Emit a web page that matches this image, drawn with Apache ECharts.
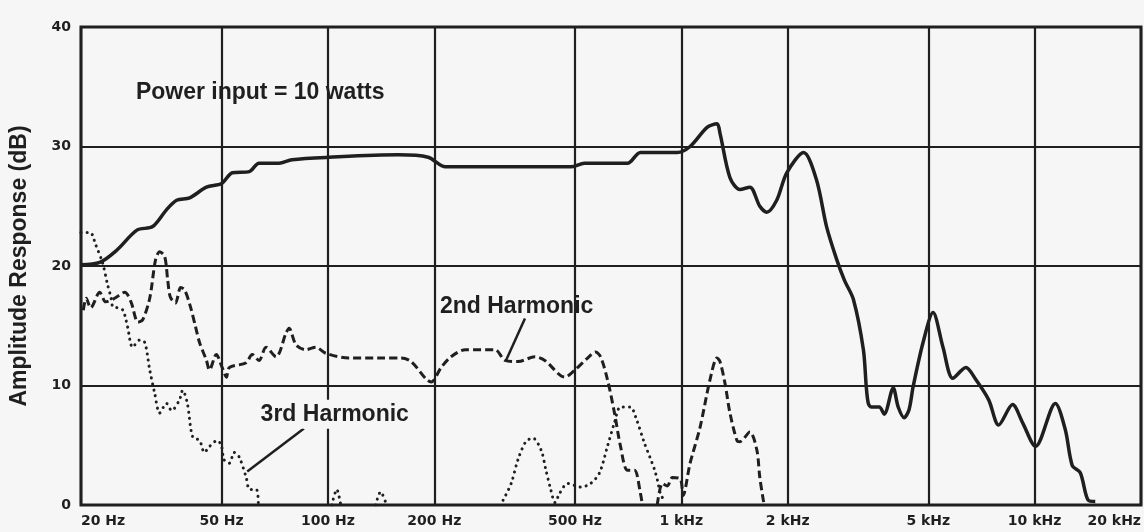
<!DOCTYPE html>
<html>
<head>
<meta charset="utf-8">
<style>
html, body { margin: 0; padding: 0; background: #f6f6f6; }
#main { width: 1144px; height: 532px; }
</style>
</head>
<body>
<div id="main"></div>
<script src="https://cdn.jsdelivr.net/npm/echarts@6/dist/echarts.min.js"></script>
<script>
// frequency ticks (Hz) and their printed labels
var freqTicks = [20, 50, 100, 200, 500, 1000, 2000, 5000, 10000, 20000];
var tickLabels = ['20 Hz', '50 Hz', '100 Hz', '200 Hz', '500 Hz', '1 kHz', '2 kHz', '5 kHz', '10 kHz', '20 kHz'];

// [Hz, dB]
var mainResponse = [
    [20, 20.1], [22.6, 20.3], [25.2, 21.3], [28.8, 23.0], [31.9, 23.3], [34.9, 24.7],
    [37.3, 25.5], [40.6, 25.7], [45.3, 26.6], [50, 26.9], [53.6, 27.8], [59.9, 27.9],
    [63.8, 28.6], [72.7, 28.6], [79.1, 28.9], [100.6, 29.1], [158, 29.3], [192, 29.1],
    [215, 28.3], [266, 28.3], [487, 28.3], [532, 28.6], [704, 28.6], [766, 29.5],
    [974, 29.5], [1059, 30.0], [1183, 31.6], [1262, 31.9], [1287, 31.1], [1373, 27.4],
    [1465, 26.4], [1563, 26.6], [1668, 25.0], [1745, 24.5], [1862, 25.5], [1988, 27.8],
    [2219, 29.5], [2414, 27.2], [2577, 23.3], [2749, 20.6], [2896, 18.8], [3070, 17.2],
    [3276, 13.0], [3338, 9.9], [3383, 8.5], [3448, 8.2], [3633, 8.2], [3752, 7.6],
    [3979, 9.8], [4110, 8.2], [4273, 7.3], [4413, 8.0], [4530, 9.9], [4833, 13.6],
    [5158, 16.1], [5503, 13.2], [5870, 10.6], [6387, 11.5], [6815, 10.5], [7413, 8.8],
    [7911, 6.7], [8662, 8.4], [9243, 6.9], [10060, 4.9], [11445, 8.5], [12213, 6.3],
    [12779, 3.3], [13465, 2.7], [14182, 0.4], [14844, 0.3]
];

var secondHarmonic = [
    [20.3, 16.3], [20.7, 17.3], [21.3, 16.5], [22.6, 17.8], [23.5, 17.0], [24.9, 17.3],
    [26.6, 17.8], [27.7, 17.0], [29.0, 15.3], [29.9, 15.5], [31.3, 17.3], [32.5, 20.5],
    [33.4, 21.2], [34.5, 20.8], [35.2, 18.8], [35.8, 17.4], [37.0, 16.9], [38.3, 18.2],
    [39.3, 18.0], [40.8, 16.6], [42.2, 14.9], [43.3, 13.6], [45.3, 12.1], [46.2, 11.3],
    [48.3, 12.6], [50.2, 11.5], [51.6, 10.7], [52.6, 11.5], [58.7, 11.9], [61.0, 12.6],
    [63.8, 12.1], [66.8, 13.2], [71.3, 12.4], [76.1, 14.4], [77.6, 14.8], [81.2, 13.4],
    [86.6, 13.0], [92.4, 13.2], [98.6, 12.7], [114.5, 12.3], [139, 12.3], [161, 12.3],
    [172, 12.0], [196, 10.3], [209, 11.5], [223, 12.4], [245, 13.0], [297, 13.0],
    [317, 12.1], [345, 12.0], [385, 12.4], [411, 12.1], [468, 10.7], [500, 11.3],
    [543, 12.3], [572, 12.8], [591, 12.4], [618, 10.5], [647, 7.7], [673, 4.9],
    [704, 2.9], [737, 2.9], [766, 1.0], [776, 0], [810, '-'],
    [855, 0], [884, 1.8], [913, 1.6], [943, 2.3], [993, 2.2], [1012, 0.8],
    [1059, 3.5], [1130, 6.5], [1206, 10.5], [1262, 12.3], [1287, 12.0], [1329, 10.2],
    [1373, 7.7], [1437, 5.4], [1465, 5.3], [1563, 6.1], [1636, 4.6], [1668, 2.3], [1711, 0.2]
];

var thirdHarmonic = [
    [20, 22.8], [21.3, 22.8], [21.6, 22.5], [22.0, 21.8], [23.0, 20.3], [23.8, 18.4],
    [24.3, 17.4], [24.6, 16.6], [25.4, 16.5], [26.3, 16.3], [26.8, 15.5], [27.1, 14.9],
    [28.0, 13.2], [29.3, 13.8], [30.3, 13.6], [31.3, 11.3], [32.3, 9.4], [33.4, 7.7],
    [34.9, 8.5], [36.1, 7.9], [38.0, 8.8], [38.8, 9.6], [40.0, 8.5], [41.4, 5.7],
    [43.3, 5.4], [44.7, 4.4], [46.2, 4.9], [48.6, 5.4], [49.9, 5.0], [50.8, 3.8],
    [52.6, 3.5], [54.3, 4.4], [56.1, 4.0], [58.7, 2.3], [60.0, 1.3], [62.7, 1.3], [63.5, 0.2],
    [80, '-'],
    [102.6, 0], [105.9, 1.3], [108.7, 0], [120, '-'],
    [136.5, 0], [140.9, 1.1], [146.5, 0], [250, '-'],
    [313, 0.4], [330, 1.8], [345, 3.8], [363, 5.3], [380, 5.6], [401, 4.6], [414, 2.9],
    [427, 1.3], [439, 0.2], [453, 1.0], [477, 1.8], [519, 1.5], [554, 1.8], [587, 2.7],
    [618, 4.9], [647, 6.9], [673, 8.2], [718, 8.2], [742, 7.4], [786, 5.2], [815, 4.0],
    [839, 3.0], [857, 2.0], [872, 1.0], [900, 0.2]
];

// annotations: [Hz, dB] anchors
var notes = [
    { name: 'Power input = 10 watts', coord: [64.3, 34.5] },
    { name: '2nd Harmonic', coord: [342, 16.6] },
    { name: '3rd Harmonic', coord: [104.5, 7.6] }
];
var leader2nd = [[361, 15.6], [319, 12.1]];
var leader3rd = [[85.5, 6.4], [59.1, 2.8]];

var ink = '#1f1f1f';
var chart = echarts.init(document.getElementById('main'));

var labelMap = {};
freqTicks.forEach(function (f, i) { labelMap[f] = tickLabels[i]; });

var noteLabel = {
    show: true,
    position: 'inside',
    formatter: '{b}',
    color: ink,
    fontFamily: 'Liberation Sans',
    fontWeight: 700,
    fontSize: 23
};

chart.setOption({
    animation: false,
    backgroundColor: '#f6f6f6',
    grid: {
        left: 81, right: 2, top: 27, bottom: 27,
        show: true,
        borderColor: ink,
        borderWidth: 3
    },
    xAxis: {
        type: 'log',
        logBase: 10,
        min: 20,
        max: 20000,
        axisLine: { show: false },
        axisTick: { show: false, customValues: freqTicks },
        axisLabel: {
            customValues: freqTicks,
            alignMinLabel: 'left',
            alignMaxLabel: 'right',
            margin: 9,
            color: ink,
            fontFamily: 'DejaVu Sans',
            fontWeight: 'bold',
            fontSize: 14,
            formatter: function (v) { return labelMap[Math.round(v)] || ''; }
        },
        splitLine: { show: true, lineStyle: { color: ink, width: 2.2 } }
    },
    yAxis: {
        type: 'value',
        min: 0,
        max: 40,
        interval: 10,
        name: 'Amplitude Response (dB)',
        nameLocation: 'middle',
        nameGap: 50,
        nameTextStyle: {
            color: ink,
            fontFamily: 'Liberation Sans',
            fontWeight: 700,
            fontSize: 23
        },
        axisLine: { show: false },
        axisTick: { show: false },
        axisLabel: {
            margin: 10,
            color: ink,
            fontFamily: 'DejaVu Sans',
            fontWeight: 'bold',
            fontSize: 14,
            padding: [0, 0, 8, 0]
        },
        splitLine: { show: true, lineStyle: { color: ink, width: 2.2 } }
    },
    series: [
        {
            name: 'Response',
            type: 'line',
            data: mainResponse,
            smooth: 0.3,
            showSymbol: false,
            lineStyle: { color: ink, width: 3.5 },
            markPoint: {
                symbol: 'circle',
                symbolSize: 0,
                label: noteLabel,
                data: [notes[0]]
            }
        },
        {
            name: '2nd Harmonic',
            type: 'line',
            data: secondHarmonic,
            smooth: 0.3,
            showSymbol: false,
            connectNulls: false,
            lineStyle: { color: ink, width: 3, type: [8, 4] },
            markPoint: {
                symbol: 'circle',
                symbolSize: 0,
                label: noteLabel,
                data: [notes[1]]
            },
            markLine: {
                symbol: 'none',
                silent: true,
                label: { show: false },
                lineStyle: { color: ink, width: 2.5, type: 'solid' },
                data: [[{ coord: leader2nd[0] }, { coord: leader2nd[1] }]]
            }
        },
        {
            name: '3rd Harmonic',
            type: 'line',
            data: thirdHarmonic,
            smooth: 0.3,
            showSymbol: false,
            connectNulls: false,
            lineStyle: { color: ink, width: 3, type: [0.1, 6], cap: 'round' },
            markPoint: {
                symbol: 'circle',
                symbolSize: 0,
                label: Object.assign({}, noteLabel, {
                    backgroundColor: '#f6f6f6',
                    padding: [3, 6]
                }),
                data: [notes[2]]
            },
            markLine: {
                symbol: 'none',
                silent: true,
                label: { show: false },
                lineStyle: { color: ink, width: 2.5, type: 'solid' },
                data: [[{ coord: leader3rd[0] }, { coord: leader3rd[1] }]]
            }
        }
    ]
});
</script>
</body>
</html>
